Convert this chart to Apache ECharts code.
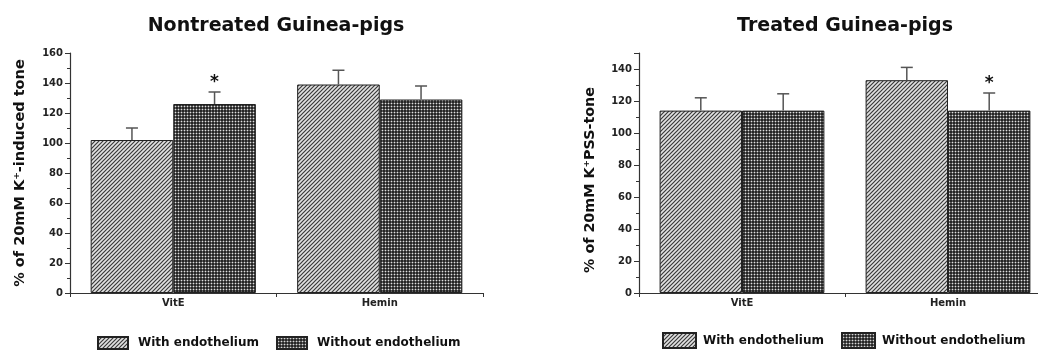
<!DOCTYPE html>
<html><head><meta charset="utf-8">
<script src="https://cdn.jsdelivr.net/npm/echarts@6/dist/echarts.min.js"></script>
<style>html,body{margin:0;padding:0;background:#fff}#c{width:1038px;height:350px}</style>
</head><body><div id="c"></div>
<script>
const categories = ['VitE', 'Hemin'];
const seriesNames = ['With endothelium', 'Without endothelium'];
const titles = ['Nontreated Guinea-pigs', 'Treated Guinea-pigs'];
const yNames = ['% of 20mM K\u207A-induced tone', '% of 20mM K\u207APSS-tone'];
const yMax = [160, 150];
const yInterval = 20;

// Nontreated (left)
const leftWith = [102, 139];
const leftWithErr = [8, 9.5];
const leftWithSig = [0, 0];
const leftWithout = [126, 129];
const leftWithoutErr = [8, 9];
const leftWithoutSig = [1, 0];

// Treated (right)
const rightWith = [114, 133];
const rightWithErr = [8, 8];
const rightWithSig = [0, 0];
const rightWithout = [114, 114];
const rightWithoutErr = [10.5, 11];
const rightWithoutSig = [0, 1];

const FONT = 'DejaVu Sans';

function hatch() {
  const s = 4, c = document.createElement('canvas'); c.width = c.height = s;
  const g = c.getContext('2d');
  g.fillStyle = '#e2e2e2'; g.fillRect(0, 0, s, s);
  g.strokeStyle = '#3a3a3a'; g.lineWidth = 1.2; g.beginPath();
  g.moveTo(-1, s + 1); g.lineTo(s + 1, -1);
  g.moveTo(-1, 1); g.lineTo(1, -1);
  g.moveTo(s - 1, s + 1); g.lineTo(s + 1, s - 1);
  g.stroke();
  return c;
}
function dots() {
  const s = 3, c = document.createElement('canvas'); c.width = c.height = s;
  const g = c.getContext('2d');
  g.fillStyle = '#262626'; g.fillRect(0, 0, s, s);
  g.fillStyle = '#5e5e5e'; g.fillRect(0, 1, 3, 1); g.fillRect(1, 0, 1, 3);
  g.fillStyle = '#e0e0e0'; g.fillRect(1, 1, 1, 1);
  return c;
}
const patWith = { image: hatch(), repeat: 'repeat' };
const patWithout = { image: dots(), repeat: 'repeat' };

function errRender(offFrac) {
  return function (params, api) {
    const i = api.value(0), v = api.value(1), e = api.value(2);
    const w = api.size([1, 0])[0];
    const base = api.coord([i, v]);
    const top = api.coord([i, v + e]);
    const x = base[0] + offFrac * w;
    const st = { stroke: '#555', lineWidth: 1.5 };
    const ch = [
      { type: 'line', shape: { x1: x, y1: base[1], x2: x, y2: top[1] }, style: st },
      { type: 'line', shape: { x1: x - 6, y1: top[1], x2: x + 6, y2: top[1] }, style: st }
    ];
    if (api.value(3)) {
      ch.push({ type: 'text', x: x, y: top[1] - 1, style: { text: '*', fill: '#111', font: 'bold 17px ' + FONT, align: 'center', verticalAlign: 'bottom' } });
    }
    return { type: 'group', children: ch };
  };
}

const grids = [
  { left: 70, top: 53, width: 413, bottom: 57, outerBoundsMode: 'none', containLabel: false },
  { left: 639, top: 53, width: 412, bottom: 57, outerBoundsMode: 'none', containLabel: false }
];
const data = [
  [leftWith, leftWithErr, leftWithSig, leftWithout, leftWithoutErr, leftWithoutSig],
  [rightWith, rightWithErr, rightWithSig, rightWithout, rightWithoutErr, rightWithoutSig]
];

const series = [];
data.forEach((d, k) => {
  series.push({ type: 'bar', name: seriesNames[0], xAxisIndex: k, yAxisIndex: k, data: d[0], barGap: '0%', barCategoryGap: '20%',
    itemStyle: { color: patWith, borderColor: '#222', borderWidth: 1 } });
  series.push({ type: 'bar', name: seriesNames[1], xAxisIndex: k, yAxisIndex: k, data: d[3], barGap: '0%', barCategoryGap: '20%',
    itemStyle: { color: patWithout, borderColor: '#222', borderWidth: 1 } });
  series.push({ type: 'custom', name: 'errA' + k, xAxisIndex: k, yAxisIndex: k, z: 5, renderItem: errRender(-0.2),
    encode: { x: 0, y: 1 }, data: categories.map((c, i) => [i, d[0][i], d[1][i], d[2][i]]) });
  series.push({ type: 'custom', name: 'errB' + k, xAxisIndex: k, yAxisIndex: k, z: 5, renderItem: errRender(0.2),
    encode: { x: 0, y: 1 }, data: categories.map((c, i) => [i, d[3][i], d[4][i], d[5][i]]) });
});

const nameStyles = [
  { fontFamily: FONT, fontWeight: 'bold', fontSize: 14.5, color: '#111' },
  { fontFamily: FONT, fontWeight: 'bold', fontSize: 14.3, color: '#111', padding: [0, 14, 0, 0] }
];
const axisLine = { lineStyle: { color: '#333', width: 1.2 } };
const option = {
  animation: false,
  backgroundColor: '#fff',
  title: [
    { text: titles[0], left: 276, top: 17, textAlign: 'center', padding: 0, textStyle: { fontFamily: FONT, fontWeight: 'bold', fontSize: 19, color: '#111' } },
    { text: titles[1], left: 845, top: 17, textAlign: 'center', padding: 0, textStyle: { fontFamily: FONT, fontWeight: 'bold', fontSize: 19, color: '#111' } }
  ],
  legend: [
    { data: seriesNames, left: 97, top: 336, padding: 0, itemWidth: 30, itemHeight: 12, itemGap: 17, icon: 'rect',
      textStyle: { fontFamily: FONT, fontWeight: 'bold', fontSize: 12, color: '#111', padding: [0, 0, 0, 5] } },
    { data: seriesNames, left: 662, top: 332, padding: 0, itemWidth: 33, itemHeight: 15, itemGap: 17, icon: 'rect',
      textStyle: { fontFamily: FONT, fontWeight: 'bold', fontSize: 12, color: '#111', padding: [0, 0, 0, 2] } }
  ],
  grid: grids,
  xAxis: [0, 1].map(k => ({
    type: 'category', gridIndex: k, data: categories,
    axisLine: axisLine, axisTick: { show: true, length: 4, lineStyle: { color: '#333' } },
    axisLabel: { fontFamily: FONT, fontWeight: 'bold', fontSize: 10, color: '#222', margin: 5 }
  })),
  yAxis: [0, 1].map(k => ({
    type: 'value', gridIndex: k, min: 0, max: yMax[k], interval: yInterval,
    name: yNames[k], nameLocation: 'middle', nameGap: 42,
    nameTextStyle: nameStyles[k],
    axisLine: { show: true, lineStyle: { color: '#333', width: 1.2 } },
    axisTick: { show: true, length: 5, lineStyle: { color: '#333' } },
    minorTick: { show: true, splitNumber: 2, length: 3, lineStyle: { color: '#333' } },
    splitLine: { show: false },
    axisLabel: { fontFamily: FONT, fontWeight: 'bold', fontSize: 10, color: '#222', margin: 7,
      formatter: v => (v % yInterval === 0 ? String(v) : '') }
  })),
  series: series
};
const chart = echarts.init(document.getElementById('c'), null, { renderer: 'canvas' });
chart.setOption(option);
</script>
</body></html>
